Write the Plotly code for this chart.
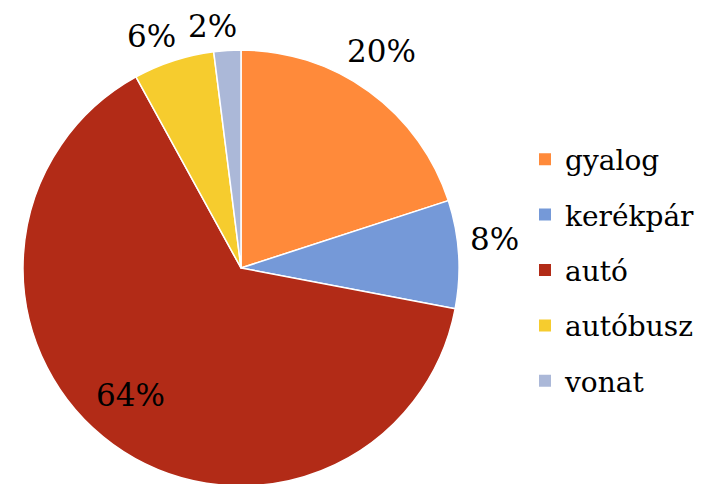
import math
import plotly.graph_objects as go

labels = ["gyalog", "kerékpár", "autó", "autóbusz", "vonat"]
values = [20, 8, 64, 6, 2]
colors = ["#FF8A3A", "#7599D8", "#B22B17", "#F6CC2E", "#ABB8D8"]
label_inside = [False, False, True, False, False]

font_name = "DejaVu Serif"
W, H = 705, 484
off = 8  # page body margin, the figure is drawn 8px in from the window corner

# pie geometry in window pixels (centre and radius)
cx, cy, r = 241 - off, 268 - off, 218

fig = go.Figure()

fig.add_trace(go.Pie(
    labels=labels,
    values=values,
    sort=False,
    direction="clockwise",
    rotation=0,
    marker=dict(colors=colors, line=dict(color="white", width=1.5)),
    textinfo="none",
    domain=dict(x=[(cx - r) / W, (cx + r) / W], y=[(H - cy - r) / H, (H - cy + r) / H]),
    showlegend=False,
    hoverinfo="label+percent",
))

# percentage labels, placed from the slice mid-angles
total = sum(values)
cum = 0
for v, inside in zip(values, label_inside):
    mid = (cum + v / 2) / total * 360
    cum += v
    txt = f"{round(v / total * 100)}%"
    if inside:
        a = math.radians(mid + 5)
        d = 0.77 * r
    else:
        a = math.radians(mid - 3)
        hw, hh = 12 * len(txt), 11
        d = r + 12 + abs(math.sin(a)) * hw + abs(math.cos(a)) * hh
    px_ = cx + d * math.sin(a)
    py_ = cy - d * math.cos(a)
    fig.add_annotation(
        x=px_ / W, y=1 - py_ / H, xref="paper", yref="paper",
        text=txt, showarrow=False, xanchor="center", yanchor="middle",
        font=dict(family=font_name, size=31, color="black"),
    )

# legend entries (one group each so the spacing can be opened up)
for name, col in zip(labels, colors):
    fig.add_trace(go.Scatter(
        x=[None], y=[None], mode="markers", name=name,
        legendgroup=name,
        marker=dict(symbol="square", size=16, color=col),
    ))

fig.update_layout(
    width=W, height=H,
    margin=dict(l=0, r=0, t=0, b=0, autoexpand=False),
    paper_bgcolor="white",
    plot_bgcolor="white",
    xaxis=dict(visible=False),
    yaxis=dict(visible=False),
    legend=dict(
        x=(571 - off - 46) / W, y=1 - (270 - off) / H, xanchor="left", yanchor="middle",
        font=dict(family=font_name, size=28, color="black"),
        tracegroupgap=16,
        itemsizing="constant",
    ),
)

fig.write_html("out.html")
